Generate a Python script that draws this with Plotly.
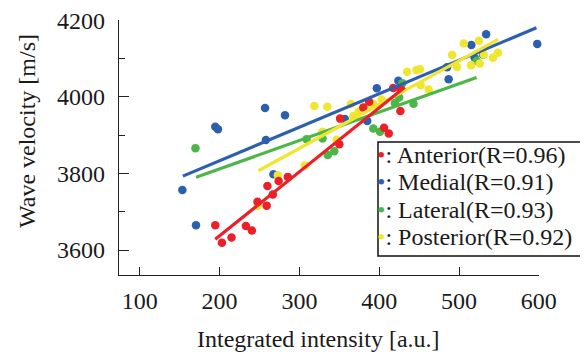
import plotly.graph_objects as go

# ---------------- data ----------------
ant_x = [194.6, 203, 215, 233, 240.5, 247.5, 259, 260, 266.7, 274, 285.5,
         350, 351, 380, 387.5, 406, 412, 417.5, 426.7, 426.5]
ant_y = [3665, 3619, 3633, 3663, 3651, 3726, 3716, 3767, 3745, 3780, 3791,
         3876, 3943, 3972, 3987, 3919, 3904, 4023, 4019, 3963]

med_x = [153.4, 170.5, 194.6, 198, 257, 258, 267.5, 282, 357, 385, 397, 424,
         485, 487, 515.5, 519.6, 530, 534, 598]
med_y = [3757, 3665, 3922, 3915, 3971, 3887, 3798, 3952, 3942, 3937, 4022, 4042,
         4077, 4046, 4135, 4102, 4110, 4163, 4138]

lat_x = [169.8, 309, 329, 335.5, 343.7, 392.6, 401, 419.6, 425, 429, 443, 522]
lat_y = [3866, 3889, 3891, 3848, 3858, 3917, 3909, 3984, 3998, 4035, 3982, 4094]

pos_x = [248, 273, 307, 318.8, 335, 328.8, 346.7, 364.6, 367.6, 374, 384, 392.6,
         403, 435, 446.7, 451, 452, 462, 491.4, 497.5, 506, 515, 525, 526, 531,
         542.5, 548.7]
pos_y = [3716, 3795, 3821, 3976, 3974, 3909, 3888, 3981, 3950, 3961, 3974, 3981,
         3993, 4065, 4070, 4072, 4030, 4019, 4109, 4078, 4139, 4082, 4146, 4087, 4110,
         4102, 4115]

# regression lines (end points)
ant_fit_x = [194.6, 432]
ant_fit_y = [3628, 4025]
med_fit_x = [154, 597]
med_fit_y = [3793, 4180]
lat_fit_x = [170.5, 522]
lat_fit_y = [3790, 4050]
pos_fit_x = [248.7, 549]
pos_fit_y = [3807, 4150]

names = ["Anterior(R=0.96)", "Medial(R=0.91)", "Lateral(R=0.93)", "Posterior(R=0.92)"]

x_ticks = [100, 200, 300, 400, 500, 600]
y_ticks = [3600, 3800, 4000, 4200]
y_minor_ticks = [3700, 3900, 4100]

RED = "#ea2128"
BLUE = "#2c5fae"
GREEN = "#4cb749"
YELLOW = "#f0e52f"

FONT = "Liberation Serif"
TXT = "#1a1a1a"

fig = go.Figure()

series = [
    (med_x, med_y, med_fit_x, med_fit_y, BLUE),
    (lat_x, lat_y, lat_fit_x, lat_fit_y, GREEN),
    (pos_x, pos_y, pos_fit_x, pos_fit_y, YELLOW),
    (ant_x, ant_y, ant_fit_x, ant_fit_y, RED),
]

for xs, ys, fx, fy, c in series:
    fig.add_trace(go.Scatter(x=xs, y=ys, mode="markers",
                             marker=dict(color=c, size=8.5, line=dict(width=0)),
                             showlegend=False, hoverinfo="skip", cliponaxis=False))
for xs, ys, fx, fy, c in series:
    fig.add_trace(go.Scatter(x=fx, y=fy, mode="lines",
                             line=dict(color=c, width=3.2),
                             showlegend=False, hoverinfo="skip", cliponaxis=False))

# the page body adds an 8px offset; the figure is sized to compensate
OFF = 8
W, H = 580, 344
L, R, T, B = 111, 49, 12, 77
PW = W - L - R
PH = H - T - B


def px_x(px):
    return (px - OFF - L) / PW


def px_y(py):
    return (H - B - (py - OFF)) / PH


# legend box
fig.add_shape(type="rect", xref="paper", yref="paper",
              x0=px_x(378), x1=px_x(586), y0=px_y(256), y1=px_y(142),
              line=dict(color="#111", width=1.5), fillcolor="white", layer="above")

legend_rows = [155, 182, 210, 237]
for nm, c, py in zip(names, [RED, BLUE, GREEN, YELLOW], legend_rows):
    fig.add_annotation(xref="paper", yref="paper", x=px_x(375), y=px_y(py),
                       xanchor="left", yanchor="middle", showarrow=False,
                       text=f"<span style='color:{c}'>•</span>: {nm}",
                       font=dict(family=FONT, size=24, color=TXT))

# axis titles
fig.add_annotation(xref="paper", yref="paper", x=px_x(318), y=px_y(339),
                   xanchor="center", yanchor="middle", showarrow=False,
                   text="Integrated intensity [a.u.]",
                   font=dict(family=FONT, size=24, color=TXT))
fig.add_annotation(xref="paper", yref="paper", x=px_x(27), y=px_y(131),
                   xanchor="center", yanchor="middle", showarrow=False, textangle=-90,
                   text="Wave velocity [m/s]",
                   font=dict(family=FONT, size=24, color=TXT))

fig.update_layout(
    width=W, height=H,
    margin=dict(l=L, r=R, t=T, b=B, pad=0, autoexpand=False),
    paper_bgcolor="white", plot_bgcolor="white",
    font=dict(family=FONT, size=24, color=TXT),
    showlegend=False,
    xaxis=dict(range=[74, 600.2], tickmode="array", tickvals=x_ticks,
               ticktext=[str(v) for v in x_ticks],
               ticks="inside", ticklen=8, tickcolor="#222", tickwidth=1.2,
               showline=True, linecolor="#222", linewidth=1.2,
               showgrid=False, zeroline=False, ticklabelstandoff=4,
               ticklabeloverflow="allow", automargin=False),
    yaxis=dict(range=[3535, 4200.3], tickmode="array", tickvals=y_ticks,
               ticktext=[str(v) for v in y_ticks],
               ticks="inside", ticklen=10, tickcolor="#222", tickwidth=1.2,
               minor=dict(tickmode="array", tickvals=y_minor_ticks, ticks="inside",
                          ticklen=6, tickcolor="#222", tickwidth=1.2, showgrid=False),
               showline=True, linecolor="#222", linewidth=1.2,
               showgrid=False, zeroline=False, ticklabelstandoff=8,
               ticklabeloverflow="allow", automargin=False),
)

fig.write_html("out.html")
